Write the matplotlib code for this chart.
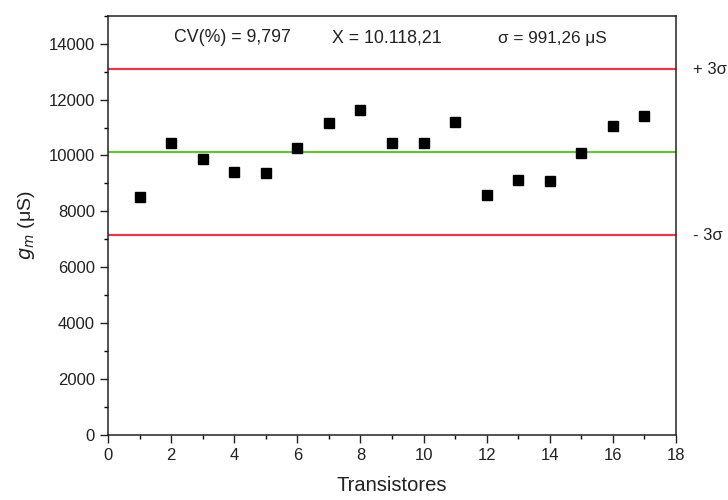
import matplotlib
matplotlib.use("Agg")
import matplotlib.pyplot as plt
from matplotlib.ticker import MultipleLocator

plt.rcParams['font.family'] = ['Liberation Sans', 'DejaVu Sans']

# data
transistores = [1, 2, 3, 4, 5, 6, 7, 8, 9, 10, 11, 12, 13, 14, 15, 16, 17]
gm = [8520, 10450, 9880, 9410, 9365, 10270, 11165, 11615, 10450, 10450,
      11190, 8570, 9140, 9070, 10095, 11045, 11425]
media = 10118.21
sigma = 991.26

fig = plt.figure(figsize=(7.28, 5), dpi=100)
ax = fig.add_axes([108/728, 65/500, 568/728, 419.3/500])

ax.axhline(media + 3*sigma, color='#e33a45', linewidth=1.6)
ax.axhline(media - 3*sigma, color='#e33a45', linewidth=1.6)
ax.axhline(media, color='#6cbf3a', linewidth=1.6)
ax.plot(transistores, gm, 's', color='black', markersize=6.8, zorder=3)

ax.set_xlim(0, 18)
ax.set_ylim(0, 15000)
ax.xaxis.set_major_locator(MultipleLocator(2))
ax.xaxis.set_minor_locator(MultipleLocator(1))
ax.yaxis.set_minor_locator(MultipleLocator(1000))
ax.set_yticks([0, 2000, 4000, 6000, 8000, 10000, 12000, 14000])
ax.tick_params(which='major', direction='out', length=5.5, width=1, labelsize=12,
               colors='#222222', pad=4)
ax.tick_params(which='minor', direction='out', length=3, width=1)
for s in ax.spines.values():
    s.set_linewidth(1.1)
    s.set_color('#222222')

ax.set_xlabel('Transistores', fontsize=14.5, labelpad=9, color='#222222')
ax.set_ylabel(r'$g_m$ ($\mathregular{\mu}$S)', fontsize=14, labelpad=8, color='#222222')

ax.text(232/728, 1 - 38/500, 'CV(%) = 9,797', transform=fig.transFigure, fontsize=12.8,
        ha='center', va='center', color='#222222')
ax.text(387/728, 1 - 38/500, 'X = 10.118,21', transform=fig.transFigure, fontsize=12.8,
        ha='center', va='center', color='#222222')
ax.text(552/728, 1 - 38/500, 'σ = 991,26 μS', transform=fig.transFigure, fontsize=12.3,
        ha='center', va='center', color='#222222')

ax.text(1.03, media + 3*sigma, '+ 3σ', transform=ax.get_yaxis_transform(), fontsize=12,
        va='center', ha='left', color='#222222')
ax.text(1.03, media - 3*sigma, '- 3σ', transform=ax.get_yaxis_transform(), fontsize=12,
        va='center', ha='left', color='#222222')

fig.savefig('out.png', dpi=100)
